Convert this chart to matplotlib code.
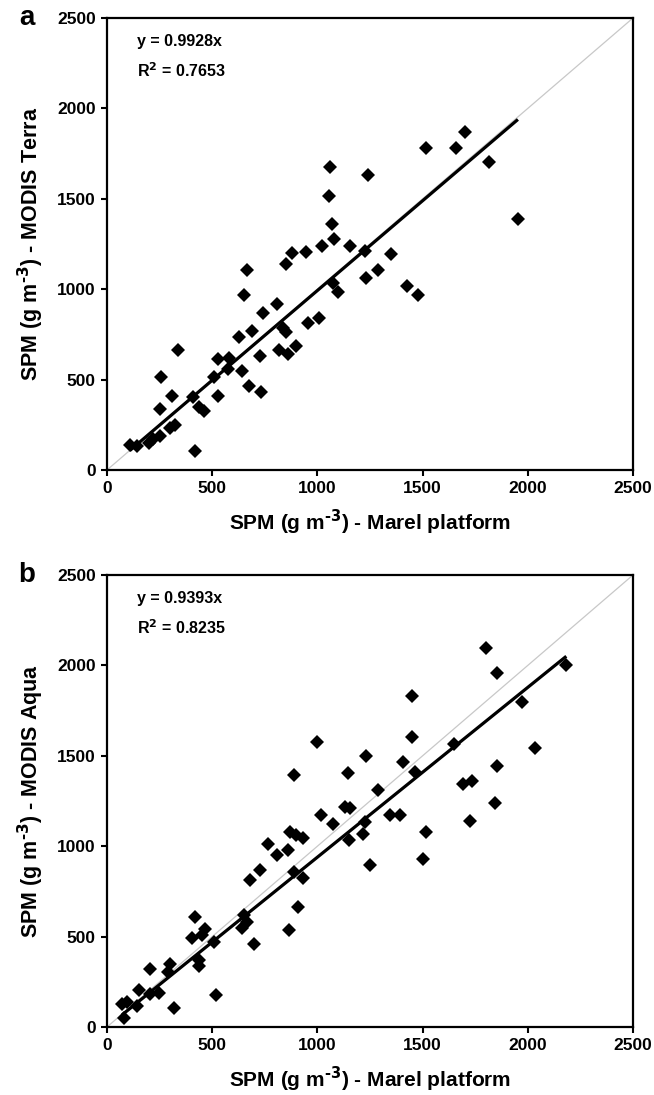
import matplotlib
matplotlib.use("Agg")
import matplotlib.pyplot as plt
import numpy as np

plt.rcParams['font.family'] = ['Liberation Sans', 'DejaVu Sans']
plt.rcParams['font.weight'] = 'bold'
plt.rcParams['mathtext.default'] = 'bf'

# ---- data ----
terra_x = [108, 142, 200, 217, 250, 258, 253, 300, 308, 325, 337, 408, 417, 438, 462,
           508, 528, 528, 575, 580, 628, 642, 650, 667, 675, 687, 725, 733, 742, 808,
           817, 837, 850, 850, 862, 880, 900, 945, 953, 1008, 1022, 1053, 1062, 1070,
           1078, 1072, 1100, 1153, 1225, 1233, 1242, 1288, 1350, 1425, 1478, 1517,
           1658, 1700, 1817, 1953]
terra_y = [136, 132, 147, 172, 187, 514, 338, 233, 411, 251, 664, 402, 105, 347, 325,
           514, 613, 411, 558, 618, 738, 545, 967, 1105, 463, 769, 628, 430, 866, 916,
           664, 787, 765, 1142, 640, 1200, 686, 1206, 811, 842, 1240, 1514, 1674, 1358,
           1275, 1037, 986, 1240, 1211, 1063, 1632, 1105, 1197, 1019, 967, 1779,
           1779, 1867, 1705, 1389]

aqua_x = [79, 72, 95, 143, 150, 206, 206, 246, 317, 300, 290, 405, 436, 436, 516, 508,
          698, 865, 417, 450, 467, 642, 667, 650, 908, 725, 680, 888, 933, 808, 862,
          763, 872, 897, 933, 1017, 1000, 888, 1072, 1133, 1153, 1145, 1150, 1217,
          1228, 1233, 1250, 1288, 1347, 1392, 1405, 1450, 1450, 1462, 1500, 1517,
          1650, 1692, 1733, 1725, 1800, 1845, 1853, 1855, 1972, 2033, 2183]
aqua_y = [50, 125, 140, 115, 205, 180, 320, 190, 104, 350, 305, 490, 370, 340, 178, 470,
          460, 535, 610, 509, 540, 546, 583, 619, 666, 868, 813, 855, 822, 951, 979,
          1012, 1080, 1062, 1047, 1173, 1575, 1394, 1121, 1219, 1214, 1407, 1034, 1067,
          1136, 1500, 896, 1311, 1173, 1173, 1468, 1831, 1606, 1409, 929, 1077,
          1565, 1344, 1362, 1141, 2094, 1237, 1445, 1956, 1796, 1541, 2002]

slopes = [0.9928, 0.9393]
r2 = [0.7653, 0.8235]
panel_letters = ['a', 'b']
y_labels = [r'SPM (g m$^{\mathbf{\text{-}3}}$) - MODIS Terra',
            r'SPM (g m$^{\mathbf{\text{-}3}}$) - MODIS Aqua']
x_label = r'SPM (g m$^{\mathbf{\text{-}3}}$) - Marel platform'
ticks = [0, 500, 1000, 1500, 2000, 2500]

W, H = 654, 1095
fig = plt.figure(figsize=(W / 100, H / 100), dpi=100)

def rect(l, r, t, b):
    return [l / W, 1 - b / H, (r - l) / W, (b - t) / H]

axes = [fig.add_axes(rect(107, 633, 18, 470)), fig.add_axes(rect(107, 633, 575, 1027))]
datasets = [(terra_x, terra_y), (aqua_x, aqua_y)]

for i, ax in enumerate(axes):
    x, y = datasets[i]
    ax.set_xlim(0, 2500)
    ax.set_ylim(0, 2500)
    ax.plot([0, 2500], [0, 2500], color='#c8c8c8', lw=0.9, zorder=1)
    xs = np.array([min(x), max(x)])
    ax.plot(xs, slopes[i] * xs, color='black', lw=2.3, zorder=2, solid_capstyle='butt')
    ax.plot(x, y, linestyle='none', marker='D', ms=7.0, color='black', mew=0, zorder=3)
    ax.set_xticks(ticks)
    ax.set_yticks(ticks)
    ax.tick_params(direction='out', length=4.5, width=1.5, labelsize=12.5, pad=3.5)
    for lab in ax.get_xticklabels() + ax.get_yticklabels():
        lab.set_fontweight('bold')
    for s in ax.spines.values():
        s.set_linewidth(1.6)
    ax.set_xlabel(x_label, fontsize=15, fontweight='bold', va='center')
    ax.xaxis.set_label_coords(0.5, -0.115)
    ax.set_ylabel(y_labels[i], fontsize=15.5, fontweight='bold', va='center')
    ax.yaxis.set_label_coords(-0.145, 0.5)
    ax.text(0.057, 0.965, 'y = %.4fx' % slopes[i], transform=ax.transAxes,
            fontsize=11.5, fontweight='bold', va='top', ha='left')
    ax.text(0.057, 0.905, r'R$^{\mathbf{2}}$ = %.4f' % r2[i], transform=ax.transAxes,
            fontsize=11.5, fontweight='bold', va='top', ha='left')
    ax.text(-0.152, 1.0, panel_letters[i], transform=ax.transAxes, fontsize=20,
            fontweight='bold', va='center', ha='center')

fig.savefig('out.png', dpi=100, facecolor='white')
